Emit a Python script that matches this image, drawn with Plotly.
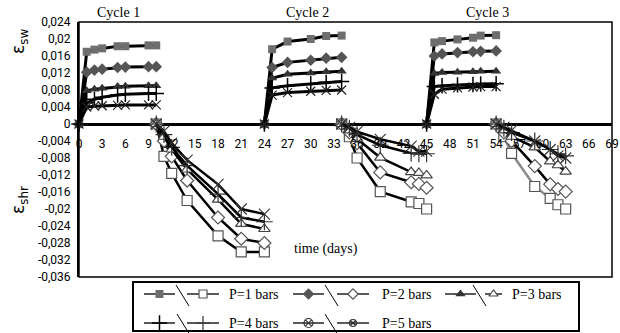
import plotly.graph_objects as go

# ---------------- data ----------------
series = ["P=1 bars", "P=2 bars", "P=3 bars", "P=4 bars", "P=5 bars"]

# swelling (cycle 1, 2, 3)
sw1_days = [0, 1, 2, 3, 5, 6, 9, 10]
sw1 = {
    "P=1 bars": [0, 0.0170, 0.0175, 0.0178, 0.0183, 0.0183, 0.0185, 0.0185],
    "P=2 bars": [0, 0.0122, 0.0127, 0.0129, 0.0133, 0.0134, 0.0135, 0.0135],
    "P=3 bars": [0, 0.0078, 0.0082, 0.0084, 0.0088, 0.0089, 0.0090, 0.0090],
    "P=4 bars": [0, 0.0050, 0.0058, 0.0063, 0.0068, 0.0070, 0.0072, 0.0072],
    "P=5 bars": [0, 0.0040, 0.0042, 0.0043, 0.0044, 0.0045, 0.0045, 0.0045],
}
sw2_days = [24, 25, 27, 30, 32, 34]
sw2 = {
    "P=1 bars": [0, 0.0176, 0.0194, 0.0200, 0.0207, 0.0208],
    "P=2 bars": [0, 0.0133, 0.0145, 0.0150, 0.0155, 0.0157],
    "P=3 bars": [0, 0.0108, 0.0117, 0.0120, 0.0123, 0.0124],
    "P=4 bars": [0, 0.0085, 0.0090, 0.0095, 0.0098, 0.0100],
    "P=5 bars": [0, 0.0068, 0.0074, 0.0077, 0.0079, 0.0080],
}
sw3_days = [45, 46, 47, 49, 51, 52, 54]
sw3 = {
    "P=1 bars": [0, 0.0192, 0.0195, 0.0199, 0.0203, 0.0208, 0.0209],
    "P=2 bars": [0, 0.0160, 0.0165, 0.0168, 0.0170, 0.0171, 0.0172],
    "P=3 bars": [0, 0.0119, 0.0121, 0.0122, 0.0123, 0.0124, 0.0124],
    "P=4 bars": [0, 0.0088, 0.0090, 0.0092, 0.0093, 0.0094, 0.0095],
    "P=5 bars": [0, 0.0070, 0.0082, 0.0085, 0.0087, 0.0088, 0.0088],
}

# shrinkage (cycle 1, 2, 3)
sh1_days = [10, 11, 12, 14, 18, 21, 24]
sh1 = {
    "P=1 bars": [0, -0.0076, -0.0116, -0.0180, -0.0263, -0.0301, -0.0301],
    "P=2 bars": [0, -0.0040, -0.0076, -0.0133, -0.0220, -0.0270, -0.0280],
    "P=3 bars": [0, -0.0030, -0.0060, -0.0107, -0.0178, -0.0235, -0.0247],
    "P=4 bars": [0, -0.0025, -0.0055, -0.0098, -0.0165, -0.0220, -0.0230],
    "P=5 bars": [0, -0.0017, -0.0045, -0.0085, -0.0142, -0.0200, -0.0212],
}
sh2_days = [34, 35, 36, 39, 43, 44, 45]
sh2 = {
    "P=1 bars": [0, -0.0030, -0.0080, -0.0159, -0.0183, -0.0187, -0.0200],
    "P=2 bars": [0, -0.0020, -0.0045, -0.0114, -0.0137, -0.0141, -0.0150],
    "P=3 bars": [0, -0.0015, -0.0035, -0.0079, -0.0113, -0.0115, -0.0121],
    "P=4 bars": [0, -0.0010, -0.0025, -0.0050, -0.0069, -0.0070, -0.0070],
    "P=5 bars": [0, -0.0008, -0.0018, -0.0036, -0.0052, -0.0064, -0.0064],
}
sh3_days = [54, 55, 56, 59, 61, 62, 63]
sh3 = {
    "P=1 bars": [0, -0.0030, -0.0069, -0.0147, -0.0175, -0.0190, -0.0200],
    "P=2 bars": [0, -0.0020, -0.0040, -0.0099, -0.0142, -0.0153, -0.0159],
    "P=3 bars": [0, -0.0015, -0.0030, -0.0055, -0.0088, -0.0097, -0.0112],
    "P=4 bars": [0, -0.0010, -0.0020, -0.0040, -0.0060, -0.0070, -0.0075],
    "P=5 bars": [0, -0.0008, -0.0015, -0.0040, -0.0060, -0.0075, -0.0080],
}

x_ticks = list(range(0, 70, 3))
y_tickvals = [0.024, 0.02, 0.016, 0.012, 0.008, 0.004, 0, -0.004, -0.008, -0.012,
              -0.016, -0.02, -0.024, -0.028, -0.032, -0.036]
y_ticktext = ["0,024", "0,02", "0,016", "0,012", "0,008", "0,004", "0", "-0,004", "-0,008",
              "-0,012", "-0,016", "-0,02", "-0,024", "-0,028", "-0,032", "-0,036"]
cycle_labels = ["Cycle 1", "Cycle 2", "Cycle 3"]

# ---------------- geometry (pixels) ----------------
W, H = 620, 333
L, R, T, B = 79, 612, 22, 333
PB = 277  # bottom of main plot
pw, ph = R - L, B - T
d0 = (B - PB) / ph


def px(x):
    return (x - L) / pw


def py(y):
    return (B - y) / ph


# ---------------- styles ----------------
filled = {
    "P=1 bars": dict(symbol="square", size=8, color="#6e6e6e"),
    "P=2 bars": dict(symbol="diamond", size=9, color="#555555"),
    "P=3 bars": dict(symbol="triangle-up", size=9, color="#333333"),
    "P=4 bars": dict(symbol="cross-thin", size=11, color="black", line=dict(width=1.5, color="black")),
    "P=5 bars": dict(symbol="x-thin", size=9, color="#222222", line=dict(width=1.2, color="#222222")),
}
hollow = {
    "P=1 bars": dict(symbol="square", size=10, color="white", line=dict(width=1.2, color="#555555")),
    "P=2 bars": dict(symbol="diamond", size=10, color="white", line=dict(width=1.2, color="#555555")),
    "P=3 bars": dict(symbol="triangle-up", size=10, color="white", line=dict(width=1.2, color="#444444")),
    "P=4 bars": dict(symbol="cross-thin", size=12, color="#333333", line=dict(width=1.2, color="#333333")),
    "P=5 bars": dict(symbol="x-thin", size=11, color="#333333", line=dict(width=1.1, color="#333333")),
}
legend_filled = dict(filled)
legend_filled["P=5 bars"] = dict(symbol="circle-x-open", size=9, color="#333333", line=dict(width=1.2))
legend_hollow = dict(hollow)
legend_hollow["P=5 bars"] = dict(symbol="circle-x-open", size=9, color="#333333", line=dict(width=1.2))

fig = go.Figure()

for days, data in [(sw1_days, sw1), (sw2_days, sw2), (sw3_days, sw3)]:
    for s in series:
        fig.add_trace(go.Scatter(x=days, y=data[s], mode="lines+markers",
                                 line=dict(color="black", width=3),
                                 marker=filled[s], showlegend=False, cliponaxis=False))
for ci, (days, data) in enumerate([(sh1_days, sh1), (sh2_days, sh2), (sh3_days, sh3)]):
    for s in series:
        col = "#8a8a8a" if (ci == 2 and s == "P=1 bars") else "black"
        fig.add_trace(go.Scatter(x=days, y=data[s], mode="lines+markers",
                                 line=dict(color=col, width=2.5),
                                 marker=hollow[s], showlegend=False, cliponaxis=False))

# ---------------- custom legend (pixel axes x2/y2) ----------------
leg_items = [
    # (series, row_y, start_x, bs_x0, hollow_x0, text_x)
    ("P=1 bars", 294, 144, 176, 187, 227),
    ("P=2 bars", 294, 293, 325, 337, 380),
    ("P=3 bars", 294, 445, 473, 485, 510),
    ("P=4 bars", 323, 144, 177, 187, 227),
    ("P=5 bars", 323, 293, 325, 337, 380),
]
shapes = []
annotations = []
for s, yy, x0, bx, hx, tx in leg_items:
    fw = 31
    fig.add_trace(go.Scatter(x=[x0, x0 + fw], y=[yy, yy], mode="lines",
                             line=dict(color="black", width=1.3),
                             xaxis="x2", yaxis="y2", showlegend=False, hoverinfo="skip"))
    fig.add_trace(go.Scatter(x=[x0 + fw / 2], y=[yy], mode="markers", marker=legend_filled[s],
                             xaxis="x2", yaxis="y2", showlegend=False, hoverinfo="skip"))
    fig.add_trace(go.Scatter(x=[bx, bx + 13], y=[yy - 9, yy + 12], mode="lines",
                             line=dict(color="black", width=1),
                             xaxis="x2", yaxis="y2", showlegend=False, hoverinfo="skip"))
    hw = tx - hx - 8 if tx - hx - 8 < 33 else 32
    fig.add_trace(go.Scatter(x=[hx, hx + hw], y=[yy, yy], mode="lines",
                             line=dict(color="black", width=1.3),
                             xaxis="x2", yaxis="y2", showlegend=False, hoverinfo="skip"))
    fig.add_trace(go.Scatter(x=[hx + hw / 2], y=[yy], mode="markers", marker=dict(
        legend_hollow[s], size=legend_hollow[s]["size"] - 2),
        xaxis="x2", yaxis="y2", showlegend=False, hoverinfo="skip"))
    annotations.append(dict(x=px(tx), y=py(yy), xref="paper", yref="paper", text=s,
                            showarrow=False, xanchor="left", yanchor="middle",
                            font=dict(family="Liberation Serif", size=14, color="black")))

shapes.append(dict(type="rect", xref="x2", yref="y2", x0=133, x1=579, y0=282, y1=331,
                   line=dict(color="black", width=2)))
# main frame
shapes.append(dict(type="rect", xref="x domain", yref="y domain", x0=0, x1=1, y0=0, y1=1,
                   line=dict(color="black", width=1.5), layer="below"))

# titles
for lab, cx in zip(cycle_labels, [118, 307, 487]):
    annotations.append(dict(x=px(cx), y=py(12), xref="paper", yref="paper", text=lab,
                            showarrow=False, xanchor="center", yanchor="middle",
                            font=dict(family="Liberation Serif", size=14, color="black")))
annotations.append(dict(x=px(326), y=py(249), xref="paper", yref="paper", text="time (days)",
                        showarrow=False, xanchor="center", yanchor="middle",
                        font=dict(family="Liberation Serif", size=14, color="black")))
annotations.append(dict(x=px(19), y=py(42), xref="paper", yref="paper", text="ε<sub>sw</sub>",
                        showarrow=False, textangle=-90, xanchor="center", yanchor="middle",
                        font=dict(family="DejaVu Sans", size=17, color="black")))
annotations.append(dict(x=px(19), y=py(200), xref="paper", yref="paper", text="ε<sub>shr</sub>",
                        showarrow=False, textangle=-90, xanchor="center", yanchor="middle",
                        font=dict(family="DejaVu Sans", size=17, color="black")))

fig.update_layout(
    width=W, height=H,
    margin=dict(l=L, r=W - R, t=T, b=H - B, pad=0, autoexpand=False),
    paper_bgcolor="white", plot_bgcolor="rgba(0,0,0,0)",
    showlegend=False,
    xaxis=dict(domain=[0, 1], range=[0, 69], anchor="free", position=d0 + 0.6 * (1 - d0),
               tickvals=x_ticks, ticks="", showline=False, showgrid=False, zeroline=False,
               ticklabelstandoff=11, automargin=False,
               tickfont=dict(family="Roboto", size=12, color="black")),
    yaxis=dict(domain=[d0, 1], range=[-0.036, 0.024], tickvals=y_tickvals, ticktext=y_ticktext,
               ticks="", showgrid=False, zeroline=True, zerolinecolor="black", zerolinewidth=2.5,
               showline=True, linecolor="black", linewidth=2, ticklabelstandoff=4,
               automargin=False,
               tickfont=dict(family="Roboto", size=12, color="black")),
    xaxis2=dict(domain=[0, 1], range=[L, R], anchor="y2", visible=False, fixedrange=True,
                automargin=False),
    yaxis2=dict(domain=[0, 1], range=[B, T], anchor="x2", visible=False, fixedrange=True,
                automargin=False),
    shapes=shapes,
    annotations=annotations,
)

fig.write_html("out.html", config={"displayModeBar": False},
               post_script="document.body.style.margin='0';document.body.style.overflow='hidden';")
